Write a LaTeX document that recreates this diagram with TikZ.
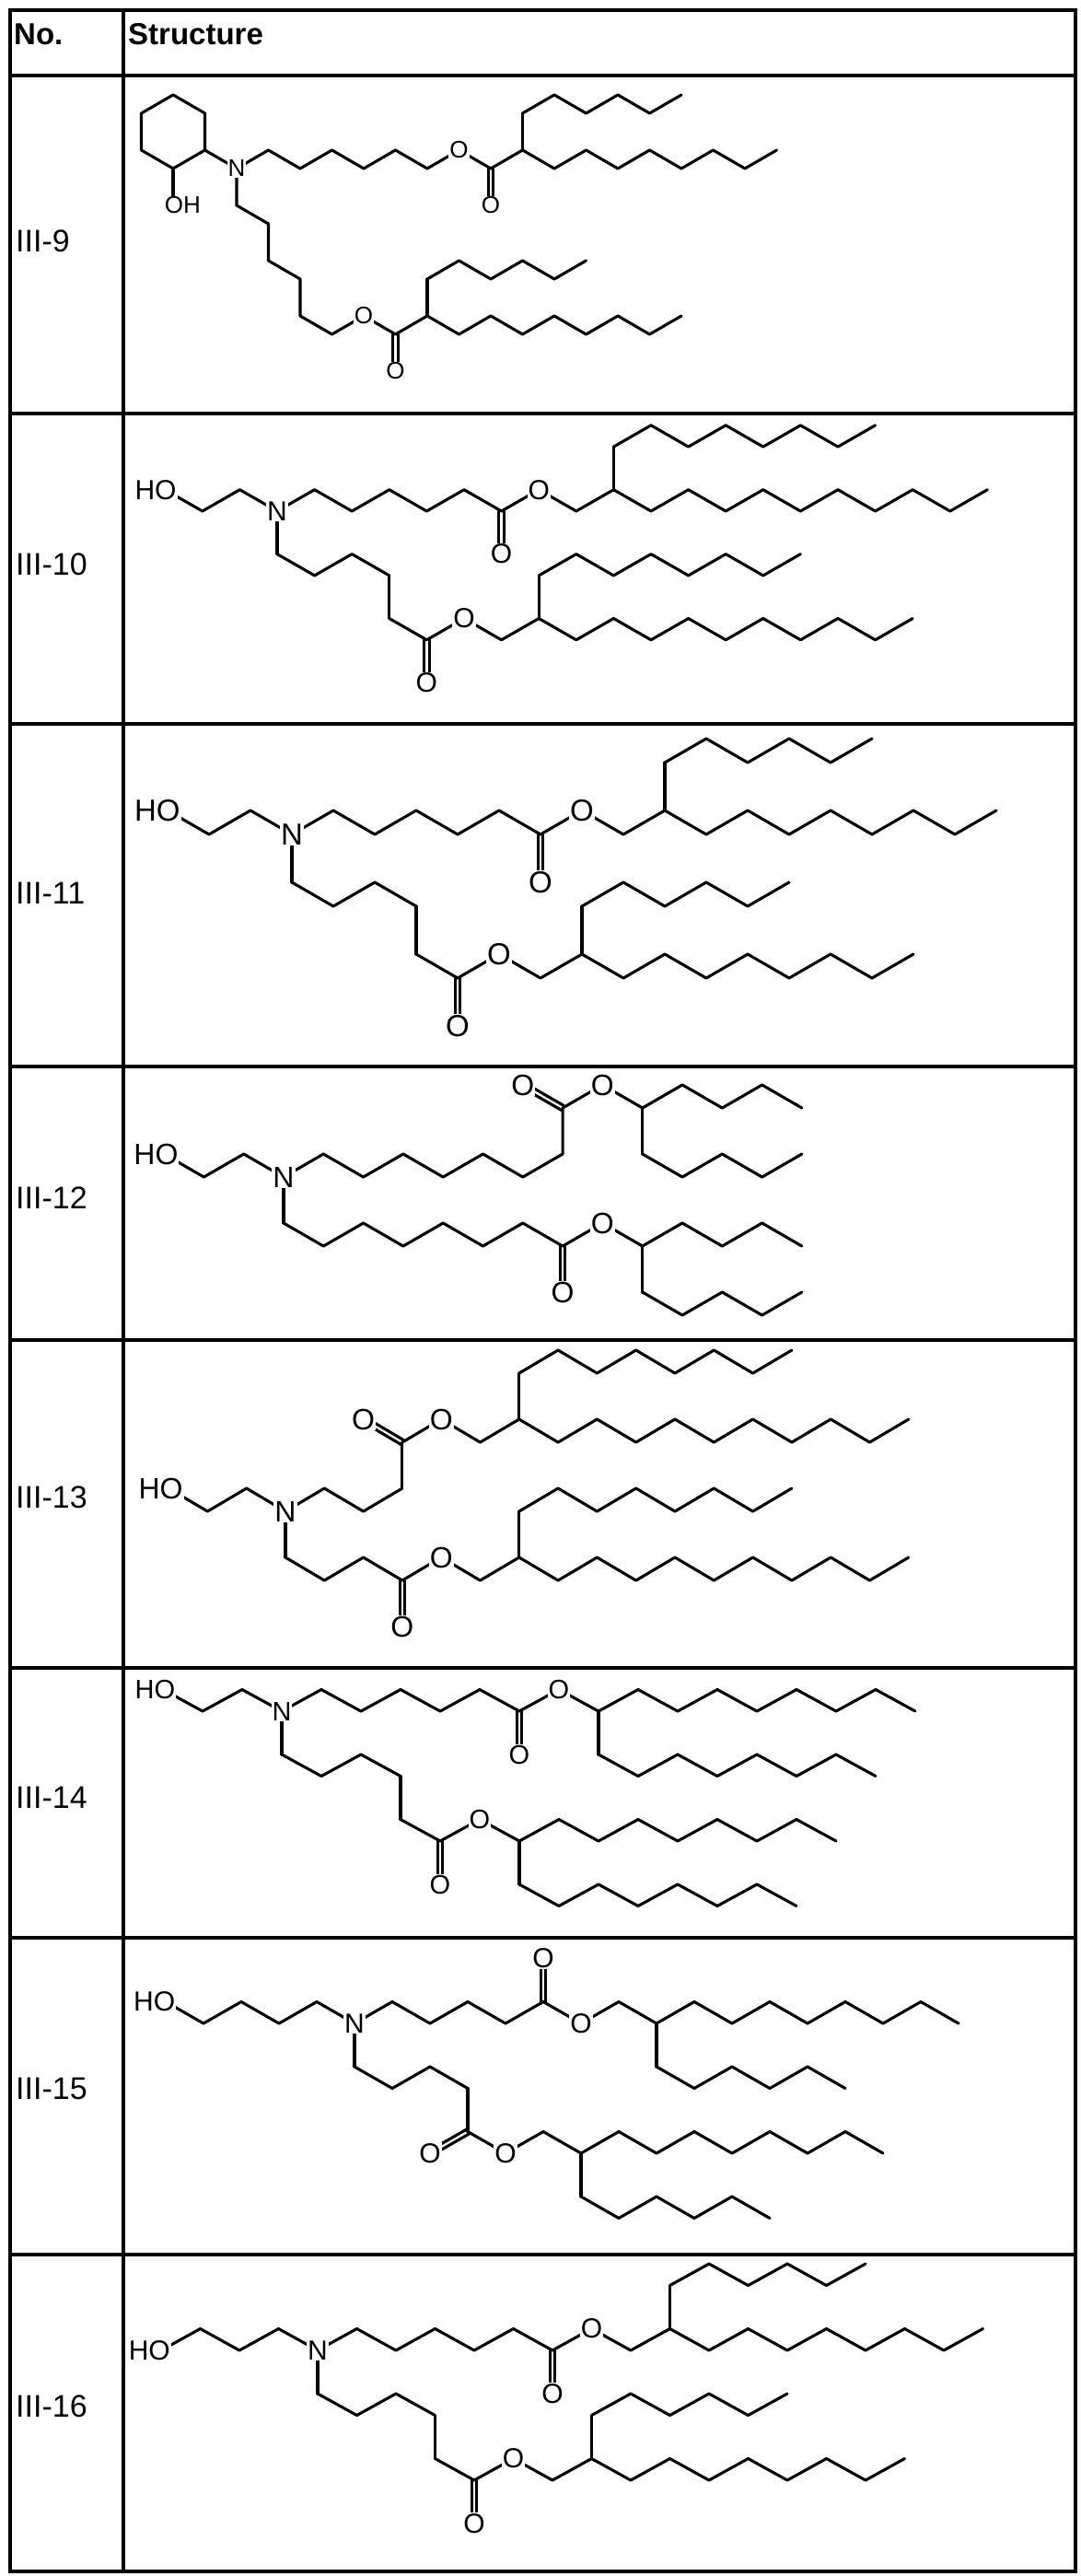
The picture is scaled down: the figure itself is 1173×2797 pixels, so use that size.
\documentclass[tikz,border=0pt]{standalone}
\usepackage{fontspec}
\setmainfont{Liberation Sans}
\usetikzlibrary{calc}
\tikzset{
  bond/.style={line width=3.1pt,line cap=round,line join=round},
  tbl/.style={line width=3.4pt},
  atom/.style={fill=white,inner sep=1pt,font=\fontsize{30}{30}\selectfont},
  lab/.style={anchor=west,inner sep=0pt,font=\fontsize{34}{34}\selectfont},
  hdr/.style={anchor=west,inner sep=0pt,font=\fontsize{33}{33}\selectfont\bfseries}
}
\newcommand\zz[4]{\draw[bond] (#1,#2) \foreach \k in {1,...,#3}{ -- ++(1,{#4*(1-2*mod(\k-1,2))}) };}
\newcommand\dbl[2]{\draw[bond] ($(#1)!2.8pt!90:(#2)$) -- ($(#2)!2.8pt!-90:(#1)$);
  \draw[bond] ($(#1)!2.8pt!-90:(#2)$) -- ($(#2)!2.8pt!90:(#1)$);}
\newcommand\A[3]{\node[atom] (#1) at (#2) {#3};}
\begin{document}
\begin{tikzpicture}[x=1pt,y=-1pt]
\useasboundingbox (0,0) rectangle (1173,2797);
% table
\draw[tbl] (11,11) rectangle (1168,2792);
\draw[tbl] (134,11) -- (134,2792);
\foreach \yy in {82,449,786,1158,1455,1811,2104,2448} \draw[tbl] (11,\yy) -- (1168,\yy);
\node[hdr] (hno) at (15,37) {No.};
\node[hdr] (hst) at (139,37) {Structure};
\node[lab] (l9) at (17,262) {III-9};
\node[lab] (l10) at (17,613) {III-10};
\node[lab] (l11) at (17,970) {III-11};
\node[lab] (l12) at (17,1301) {III-12};
\node[lab] (l13) at (17,1626) {III-13};
\node[lab] (l14) at (17,1952) {III-14};
\node[lab] (l15) at (17,2268) {III-15};
\node[lab] (l16) at (17,2613) {III-16};

% III-9
\begin{scope}[shift={(188,103)},x={(34.5pt,0pt)},y={(0pt,20pt)},atom/.append style={font=\fontsize{26}{26}\selectfont}]
\draw[bond] (0,0)--(1,-1)--(1,-3)--(0,-4)--(-1,-3)--(-1,-1)--cycle;
\draw[bond] (0,-4)--(0,-6);
\draw[bond] (1,-3)--(2,-4);
\zz{2}{-4}{9}{1}
\dbl{10,-4}{10,-6}
\draw[bond] (11,-3)--(11,-1); \zz{11}{-1}{5}{1}
\zz{11}{-3}{8}{-1}
\draw[bond] (2,-4)--(2,-6)--(3,-7)--(3,-9)--(4,-10)--(4,-12);
\zz{4}{-12}{4}{-1}
\dbl{7,-13}{7,-15}
\draw[bond] (8,-12)--(8,-10); \zz{8}{-10}{5}{1}
\zz{8}{-12}{8}{-1}
\A{a9oh}{0.3,-6}{OH}
\A{a9n}{2,-4}{N}
\A{a9o1}{9,-3}{O}
\A{a9o2}{10,-6}{O}
\A{a9o3}{6,-12}{O}
\A{a9o4}{7,-15}{O}
\end{scope}

% III-10
\begin{scope}[shift={(301,555)},x={(40.6pt,0pt)},y={(0pt,23.3pt)}]
\draw[bond] (-3,1)--(-2,0)--(-1,1)--(0,0);
\zz{0}{0}{9}{1}
\dbl{6,0}{6,-2}
\draw[bond] (9,1)--(9,3); \zz{9}{3}{7}{1}
\zz{9}{1}{10}{-1}
\draw[bond] (0,0)--(0,-2); \zz{0}{-2}{3}{-1}
\draw[bond] (3,-3)--(3,-5); \zz{3}{-5}{4}{-1}
\dbl{4,-6}{4,-8}
\draw[bond] (7,-5)--(7,-3); \zz{7}{-3}{7}{1}
\zz{7}{-5}{10}{-1}
\A{a10ho}{-3.25,1}{HO}
\A{a10n}{0,0}{N}
\A{a10o1}{7,1}{O}
\A{a10o2}{6,-2}{O}
\A{a10o3}{5,-5}{O}
\A{a10o4}{4,-8}{O}
\end{scope}

% III-11
\begin{scope}[shift={(317,906)},x={(45pt,0pt)},y={(0pt,26pt)},atom/.append style={font=\fontsize{33}{33}\selectfont}]
\draw[bond] (-3,1)--(-2,0)--(-1,1)--(0,0);
\zz{0}{0}{9}{1}
\dbl{6,0}{6,-2}
\draw[bond] (9,1)--(9,3); \zz{9}{3}{5}{1}
\zz{9}{1}{8}{-1}
\draw[bond] (0,0)--(0,-2); \zz{0}{-2}{3}{-1}
\draw[bond] (3,-3)--(3,-5); \zz{3}{-5}{4}{-1}
\dbl{4,-6}{4,-8}
\draw[bond] (7,-5)--(7,-3); \zz{7}{-3}{5}{1}
\zz{7}{-5}{8}{-1}
\A{a11ho}{-3.25,1}{HO}
\A{a11n}{0,0}{N}
\A{a11o1}{7,1}{O}
\A{a11o2}{6,-2}{O}
\A{a11o3}{5,-5}{O}
\A{a11o4}{4,-8}{O}
\end{scope}

% III-12
\begin{scope}[shift={(308,1278)},x={(43.3pt,0pt)},y={(0pt,25pt)},atom/.append style={font=\fontsize{32}{32}\selectfont}]
\draw[bond] (-3,1)--(-2,0)--(-1,1)--(0,0);
\zz{0}{0}{7}{1}
\draw[bond] (7,1)--(7,3)--(8,4)--(9,3);
\dbl{7,3}{6,4}
\zz{9}{3}{4}{1}
\draw[bond] (9,3)--(9,1); \zz{9}{1}{4}{-1}
\draw[bond] (0,0)--(0,-2); \zz{0}{-2}{9}{-1}
\dbl{7,-3}{7,-5}
\zz{9}{-3}{4}{1}
\draw[bond] (9,-3)--(9,-5); \zz{9}{-5}{4}{-1}
\A{a12ho}{-3.2,1}{HO}
\A{a12n}{0,0}{N}
\A{a12o1}{6,4}{O}
\A{a12o2}{8,4}{O}
\A{a12o3}{8,-2}{O}
\A{a12o4}{7,-5}{O}
\end{scope}

% III-13
\begin{scope}[shift={(310,1641)},x={(42.3pt,0pt)},y={(0pt,25pt)},atom/.append style={font=\fontsize{32}{32}\selectfont}]
\draw[bond] (-3,1)--(-2,0)--(-1,1)--(0,0);
\zz{0}{0}{3}{1}
\draw[bond] (3,1)--(3,3);
\dbl{3,3}{2,4}
\zz{3}{3}{3}{1}
\draw[bond] (6,4)--(6,6); \zz{6}{6}{7}{1}
\zz{6}{4}{10}{-1}
\draw[bond] (0,0)--(0,-2); \zz{0}{-2}{6}{-1}
\dbl{3,-3}{3,-5}
\draw[bond] (6,-2)--(6,0); \zz{6}{0}{7}{1}
\zz{6}{-2}{10}{-1}
\A{a13ho}{-3.2,1}{HO}
\A{a13n}{0,0}{N}
\A{a13o1}{2,4}{O}
\A{a13o2}{4,4}{O}
\A{a13o3}{4,-2}{O}
\A{a13o4}{3,-5}{O}
\end{scope}

% III-14
\begin{scope}[shift={(306,1858)},x={(43pt,0pt)},y={(0pt,23.5pt)},atom/.append style={font=\fontsize{29}{29}\selectfont}]
\draw[bond] (-3,1)--(-2,0)--(-1,1)--(0,0);
\zz{0}{0}{8}{1}
\dbl{6,0}{6,-2}
\zz{8}{0}{8}{1}
\draw[bond] (8,0)--(8,-2); \zz{8}{-2}{7}{-1}
\draw[bond] (0,0)--(0,-2); \zz{0}{-2}{3}{-1}
\draw[bond] (3,-3)--(3,-5); \zz{3}{-5}{3}{-1}
\dbl{4,-6}{4,-8}
\zz{6}{-6}{8}{1}
\draw[bond] (6,-6)--(6,-8); \zz{6}{-8}{7}{-1}
\A{a14ho}{-3.2,1}{HO}
\A{a14n}{0,0}{N}
\A{a14o1}{7,1}{O}
\A{a14o2}{6,-2}{O}
\A{a14o3}{5,-5}{O}
\A{a14o4}{4,-8}{O}
\end{scope}

% III-15
\begin{scope}[shift={(385,2197)},x={(41pt,0pt)},y={(0pt,23.5pt)}]
\draw[bond] (-5,1)--(-4,0)--(-3,1)--(-2,0)--(-1,1)--(0,0);
\zz{0}{0}{8}{1}
\dbl{5,1}{5,3}
\zz{8}{0}{8}{1}
\draw[bond] (8,0)--(8,-2); \zz{8}{-2}{5}{-1}
\draw[bond] (0,0)--(0,-2); \zz{0}{-2}{3}{-1}
\draw[bond] (3,-3)--(3,-5);
\dbl{3,-5}{2,-6}
\zz{3}{-5}{3}{-1}
\zz{6}{-6}{8}{1}
\draw[bond] (6,-6)--(6,-8); \zz{6}{-8}{5}{-1}
\A{a15ho}{-5.3,1}{HO}
\A{a15n}{0,0}{N}
\A{a15o1}{5,3}{O}
\A{a15o2}{6,0}{O}
\A{a15o3}{2,-6}{O}
\A{a15o4}{4,-6}{O}
\end{scope}

% III-16
\begin{scope}[shift={(345,2552)},x={(42.5pt,0pt)},y={(0pt,23.5pt)}]
\draw[bond] (-4,0)--(-3,1)--(-2,0)--(-1,1)--(0,0);
\zz{0}{0}{9}{1}
\dbl{6,0}{6,-2}
\draw[bond] (9,1)--(9,3); \zz{9}{3}{5}{1}
\zz{9}{1}{8}{-1}
\draw[bond] (0,0)--(0,-2); \zz{0}{-2}{3}{-1}
\draw[bond] (3,-3)--(3,-5); \zz{3}{-5}{4}{-1}
\dbl{4,-6}{4,-8}
\draw[bond] (7,-5)--(7,-3); \zz{7}{-3}{5}{1}
\zz{7}{-5}{8}{-1}
\A{a16ho}{-4.3,0}{HO}
\A{a16n}{0,0}{N}
\A{a16o1}{7,1}{O}
\A{a16o2}{6,-2}{O}
\A{a16o3}{5,-5}{O}
\A{a16o4}{4,-8}{O}
\end{scope}
\end{tikzpicture}
\end{document}
